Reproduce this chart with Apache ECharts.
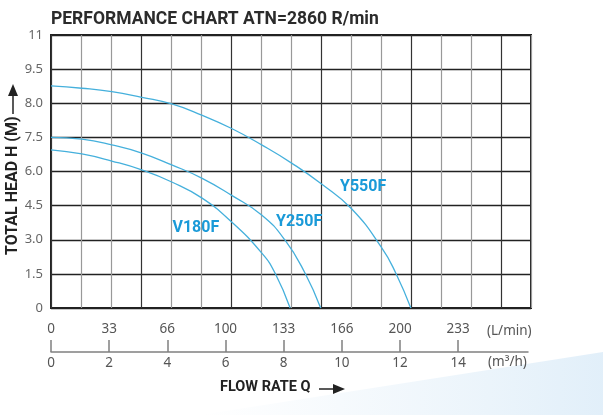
<!DOCTYPE html>
<html><head><meta charset="utf-8">
<script src="https://cdn.jsdelivr.net/npm/echarts@6/dist/echarts.min.js"></script>
<style>html,body{margin:0;padding:0;background:#fff}#c{width:603px;height:415px}</style>
</head><body><div id="c"></div>
<script>
// Tick labels (as printed on the original chart)
const headLabels = ['0','1.5','3.0','4.5','6.0','7.5','8.0','9.5','11'];
const lpmLabels  = ['0','33','66','100','133','166','200','233'];
const m3hLabels  = ['0','2','4','6','8','10','12','14'];
const m3hTicks   = [0,2,4,6,8,10,12,14];

// Curves: flow (m3/h) and head (m, linear 1.5 m per grid row)
const flowV180F = [0, 1.06, 2.09, 3.12, 4.15, 5.18, 6.21, 7.24, 7.70, 8.22];
const headV180F = [6.95, 6.77, 6.46, 6.07, 5.54, 4.84, 3.78, 2.42, 1.54, 0];
const flowY250F = [0, 1.06, 2.09, 3.12, 4.15, 5.18, 6.21, 7.24, 8.04, 8.73, 9.27];
const headY250F = [7.50, 7.42, 7.17, 6.81, 6.29, 5.71, 4.95, 4.09, 2.99, 1.54, 0];
const flowY550F = [0, 1.06, 2.09, 3.12, 4.15, 5.18, 6.21, 7.24, 8.27, 9.30, 10.34, 11.37, 11.85, 12.37];
const headY550F = [9.76, 9.66, 9.51, 9.26, 8.97, 8.48, 7.89, 7.17, 6.37, 5.45, 4.35, 2.64, 1.54, 0];

const zip = (a, b) => a.map((v, i) => [v, b[i]]);
const curveColor = '#45b0dc';
const labelColor = '#1a9ad8';

function curve(name, fx, hy, labelCoord) {
  return {
    name, type: 'line', xAxisIndex: 1, yAxisIndex: 0,
    data: zip(fx, hy), smooth: 0.5,
    symbol: 'none', lineStyle: { color: curveColor, width: 1.3 },
    markPoint: {
      symbol: 'circle', symbolSize: 0,
      label: { show: true, position: 'inside', formatter: name, color: labelColor,
               fontFamily: 'Roboto', fontWeight: 'bold', fontSize: 16 },
      data: [{ coord: labelCoord }]
    }
  };
}

const chart = echarts.init(document.getElementById('c'), null, { renderer: 'canvas' });
chart.setOption({
  animation: false,
  backgroundColor: '#fff',
  title: {
    text: 'PERFORMANCE CHART ATN=2860 R/min', left: 46, top: 6,
    textStyle: { fontFamily: 'Roboto', fontWeight: 'bold', fontSize: 17.5, color: '#2b2b2b' }
  },
  grid: [
    { left: 51, top: 35, width: 480, height: 273, show: true, borderColor: '#222', borderWidth: 2, backgroundColor: 'transparent' },
    { left: 51, top: 340, width: 477, height: 12 }
  ],
  xAxis: [
    { gridIndex: 0, type: 'value', min: 0, max: 16, interval: 1,
      axisLine: { show: false }, axisTick: { show: false }, axisLabel: { show: false },
      splitLine: { show: true, lineStyle: { color: ['#333', '#999', '#999'], width: 1.2 } } },
    { gridIndex: 0, type: 'value', min: 0, max: 16.5, show: false, splitLine: { show: false } },
    { gridIndex: 1, type: 'value', position: 'top', min: 0, max: 16.4,
      axisLine: { show: true, lineStyle: { color: '#808080', width: 1.5 } },
      axisTick: { show: false }, splitLine: { show: false },
      axisLabel: { customValues: m3hTicks, formatter: v => lpmLabels[m3hTicks.indexOf(v)],
                   margin: 4, color: '#555', fontFamily: 'Noto Sans', fontSize: 13.5 } },
    { gridIndex: 1, type: 'value', position: 'bottom', min: 0, max: 16.4,
      axisLine: { show: false }, splitLine: { show: false },
      axisTick: { show: true, inside: true, length: 12, customValues: m3hTicks,
                  lineStyle: { color: '#808080', width: 1.5 } },
      axisLabel: { customValues: m3hTicks, formatter: v => m3hLabels[m3hTicks.indexOf(v)],
                   margin: 4, color: '#555', fontFamily: 'Noto Sans', fontSize: 13.5 } }
  ],
  yAxis: [
    { gridIndex: 0, type: 'value', min: 0, max: 12, interval: 1.5,
      axisLine: { show: false }, axisTick: { show: false },
      axisLabel: { formatter: v => headLabels[Math.round(v / 1.5)], margin: 8,
                   color: '#666', fontFamily: 'Noto Sans', fontSize: 13 },
      splitLine: { show: true, lineStyle: { color: '#222', width: 1.3 } } },
    { gridIndex: 1, type: 'value', show: false }
  ],
  series: [
    curve('V180F', flowV180F, headV180F, [4.98, 3.52]),
    curve('Y250F', flowY250F, headY250F, [8.53, 3.78]),
    curve('Y550F', flowY550F, headY550F, [10.73, 5.32])
  ],
  graphic: [
    { type: 'polygon', z: -10, silent: true,
      shape: { points: [[200, 415], [603, 352], [603, 415]] },
      style: { fill: new echarts.graphic.LinearGradient(0, 0, 1, 0, [
        { offset: 0, color: 'rgba(225,238,248,0)' }, { offset: 1, color: 'rgba(218,235,248,0.8)' }]) } },
    { type: 'text', left: 487, top: 324,
      style: { text: '(L/min)', fill: '#555', font: '13.5px "Noto Sans"' } },
    { type: 'text', left: 488, top: 355,
      style: { text: '(m³/h)', fill: '#555', font: '13.5px "Noto Sans"' } },
    { type: 'text', left: 220, top: 380,
      style: { text: 'FLOW RATE Q', fill: '#222', font: 'bold 14.5px Roboto' } },
    { type: 'line', shape: { x1: 319, y1: 389, x2: 336, y2: 389 }, style: { stroke: '#222', lineWidth: 1.5 } },
    { type: 'polygon', shape: { points: [[333, 384], [345, 389], [333, 394]] }, style: { fill: '#222' } },
    { type: 'text', x: 5, y: 255, rotation: Math.PI / 2,
      style: { text: 'TOTAL HEAD H (M)', fill: '#222', font: 'bold 16px Roboto', align: 'left', verticalAlign: 'top' } },
    { type: 'line', shape: { x1: 13, y1: 93, x2: 13, y2: 114 }, style: { stroke: '#222', lineWidth: 1.5 } },
    { type: 'polygon', shape: { points: [[8, 96], [13, 84], [18, 96]] }, style: { fill: '#222' } }
  ]
});
</script></body></html>
